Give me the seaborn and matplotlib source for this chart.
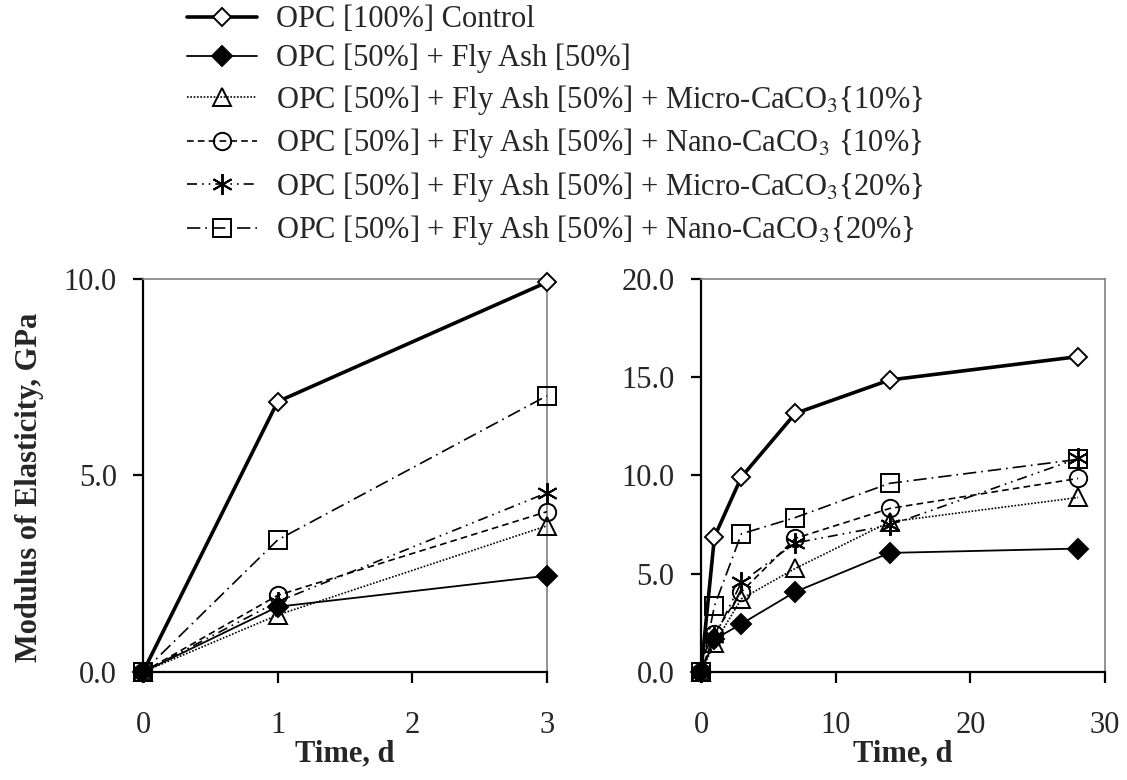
import seaborn as sns
import matplotlib.pyplot as plt
import pandas as pd

sns.set_theme(style="ticks")
plt.rcParams['font.family'] = ['Liberation Serif', 'DejaVu Serif']
plt.rcParams['mathtext.fontset'] = 'stix'

# data (GPa)
days = [0, 1, 3, 7, 14, 28]
labels = [
    "OPC [100%] Control",
    "OPC [50%] + Fly Ash [50%]",
    "OPC [50%] + Fly Ash [50%] + Micro-CaCO$_3${10%}",
    "OPC [50%] + Fly Ash [50%] + Nano-CaCO$_3$ {10%}",
    "OPC [50%] + Fly Ash [50%] + Micro-CaCO$_3${20%}",
    "OPC [50%] + Fly Ash [50%] + Nano-CaCO$_3${20%}",
]
control = [0, 6.88, 9.92, 13.16, 14.86, 16.05]
fly_ash = [0, 1.66, 2.45, 4.08, 6.06, 6.28]
micro10 = [0, 1.45, 3.72, 5.27, 7.64, 8.88]
nano10 = [0, 1.95, 4.08, 6.80, 8.32, 9.85]
micro20 = [0, 1.79, 4.56, 6.57, 7.47, 10.87]
nano20 = [0, 3.36, 7.03, 7.86, 9.60, 10.82]
series = [control, fly_ash, micro10, nano10, micro20, nano20]

# styles
styles = [
    dict(marker='D', ms=9.5, mfc='white', lw=2.6, ls='-'),
    dict(marker='D', ms=10, mfc='black', lw=1.3, ls='-'),
    dict(marker='^', ms=12.5, mfc='none', lw=1.2, ls=(0, (1, 1))),
    dict(marker='o', ms=12.5, mfc='none', lw=1.2, ls=(0, (4, 2.5))),
    dict(marker=(6, 2, 0), ms=15, mfc='none', lw=1.2, ls=(0, (6, 3, 1, 3, 1, 3))),
    dict(marker='s', ms=13.5, mfc='none', lw=1.2, ls=(0, (8, 3, 1, 3))),
]

fs = 22
fig = plt.figure(figsize=(11.27, 7.8), dpi=100)
ax1 = fig.add_axes([0.1269, 0.1385, 0.3585, 0.5038])
ax2 = fig.add_axes([0.622, 0.1385, 0.3585, 0.5038])

for ax, n in [(ax1, 3), (ax2, 6)]:
    for lab, vals, st in zip(labels, series, styles):
        df = pd.DataFrame({"day": days[:n], "E": vals[:n]})
        sns.lineplot(data=df, x="day", y="E", ax=ax, color='black',
                     marker=st['marker'], markersize=st['ms'],
                     markerfacecolor=st['mfc'], markeredgecolor='black',
                     markeredgewidth=1.4, linewidth=st['lw'],
                     linestyle=st['ls'], label=lab, clip_on=False, zorder=3)
    ax.get_legend().remove()
    for s in ['right', 'top']:
        ax.spines[s].set_color('#808080')
        ax.spines[s].set_linewidth(1.2)
    for s in ['left', 'bottom']:
        ax.spines[s].set_color('black')
        ax.spines[s].set_linewidth(1.6)
    ax.tick_params(axis='both', labelsize=fs, color='black', width=1.6)
    ax.tick_params(axis='y', length=7, pad=12)
    ax.tick_params(axis='x', length=8, pad=20)
    ax.set_xlabel("Time, d", fontsize=fs, fontweight='bold', labelpad=0)
    ax.set_ylabel("")

ax1.set_xlim(0, 3)
ax1.set_ylim(0, 10)
ax1.set_xticks([0, 1, 2, 3])
ax1.set_yticks([0, 5, 10])
ax1.set_yticklabels(["0.0", "5.0", "10.0"])
ax1.set_ylabel("Modulus of Elasticity, GPa", fontsize=fs, fontweight='bold')
ax1.yaxis.set_label_coords(-0.245, 0.47)

ax2.set_xlim(0, 30)
ax2.set_ylim(0, 20)
ax2.set_xticks([0, 10, 20, 30])
ax2.set_yticks([0, 5, 10, 15, 20])
ax2.set_yticklabels(["0.0", "5.0", "10.0", "15.0", "20.0"])

handles, labs = ax1.get_legend_handles_labels()
fig.legend(handles, labs, loc='upper left', bbox_to_anchor=(0.163, 0.997),
           frameon=False, fontsize=fs, handlelength=2.3, handletextpad=0.62,
           labelspacing=0.31, borderpad=0.1, borderaxespad=0)

fig.savefig("out.png", dpi=100)
